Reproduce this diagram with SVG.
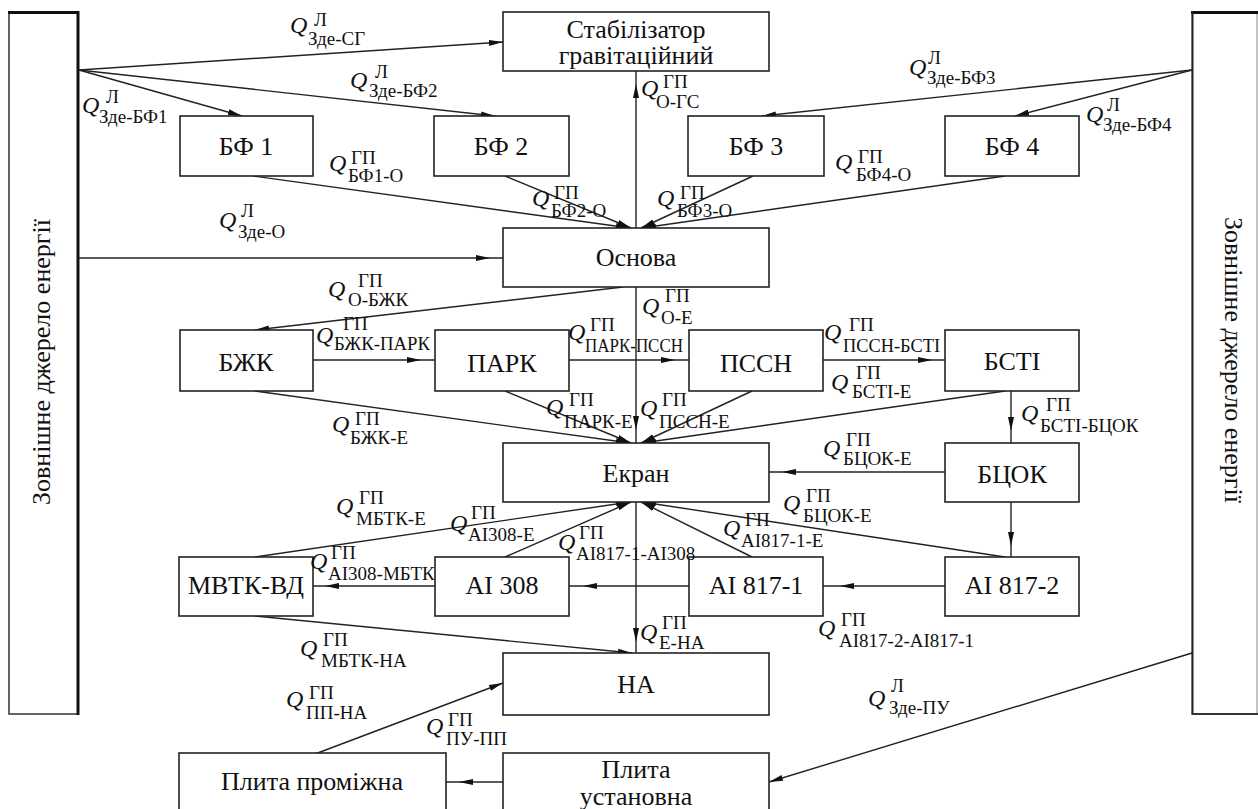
<svg xmlns="http://www.w3.org/2000/svg" width="1258" height="809" viewBox="0 0 1258 809">
<style>
.bx{fill:#fff;stroke:#222;stroke-width:1.6}
.ln{fill:none;stroke:#222;stroke-width:1.4}
.m{marker-mid:url(#ar)}
.e{marker-end:url(#ar)}
</style>
<defs>
<marker id="ar" markerUnits="userSpaceOnUse" markerWidth="14" markerHeight="8" viewBox="0 0 14 8" refX="14" refY="4" orient="auto">
<path d="M0,1 L14,4 L0,7 z" fill="#111"/>
</marker>
</defs>
<rect x="0" y="0" width="1258" height="809" fill="#fff"/>

<g id="src-left">
<rect x="9" y="12" width="69" height="702" fill="#fff" stroke="#222" stroke-width="1.4"/>
<line x1="8" y1="12.5" x2="79" y2="12.5" stroke="#111" stroke-width="3"/>
<line x1="78" y1="11" x2="78" y2="715" stroke="#111" stroke-width="3"/>
<text font-family="Liberation Serif" font-size="26" text-anchor="middle" fill="#111" transform="translate(50,362) rotate(-90)">Зовнішне джерело енергії</text>
</g>
<g id="src-right">
<rect x="1192" y="12" width="65" height="702" fill="#fff" stroke="#888" stroke-width="1"/>
<line x1="1191" y1="12.5" x2="1258" y2="12.5" stroke="#111" stroke-width="3"/>
<line x1="1192.5" y1="11" x2="1192.5" y2="715" stroke="#222" stroke-width="2"/>
<line x1="1192" y1="714" x2="1258" y2="714" stroke="#333" stroke-width="2"/>
<text font-family="Liberation Serif" font-size="26" text-anchor="middle" fill="#111" transform="translate(1225,360) rotate(90)">Зовнішне джерело енергії</text>
</g>

<g id="connectors">
<path class="ln e" d="M79,70 L503,42"/>
<path class="ln e" d="M79,70 L242,116"/>
<path class="ln e" d="M79,70 L495,116"/>
<path class="ln m" d="M79,258 L490,258 L503,258"/>
<path class="ln e" d="M1192,70 L762,116"/>
<path class="ln e" d="M1192,70 L1015,116"/>
<path class="ln m" d="M636,228 L636,84 L636,71"/>
<path class="ln e" d="M253,176 L630,228"/>
<path class="ln e" d="M505,176 L631,228"/>
<path class="ln e" d="M753,176 L641,228"/>
<path class="ln e" d="M1005,176 L642,228"/>
<path class="ln e" d="M623,287 L255,330"/>
<path class="ln m" d="M636,287 L636,430 L636,443"/>
<path class="ln m" d="M313,360 L421,360 L435,360"/>
<path class="ln m" d="M569,360 L675,360 L689,360"/>
<path class="ln m" d="M823,360 L932,360 L945,360"/>
<path class="ln m" d="M1011,391 L1011,431 L1011,443"/>
<path class="ln e" d="M255,391 L630,443"/>
<path class="ln e" d="M505,391 L631,443"/>
<path class="ln e" d="M752,391 L641,443"/>
<path class="ln e" d="M1005,391 L642,443"/>
<path class="ln m" d="M945,472 L782,472 L769,472"/>
<path class="ln m" d="M1011,502 L1011,546 L1011,557"/>
<path class="ln m" d="M945,586 L840,586 L823,586"/>
<path class="ln m" d="M689,586 L583,586 L569,586"/>
<path class="ln m" d="M435,586 L325,586 L313,586"/>
<path class="ln e" d="M255,557 L630,502"/>
<path class="ln e" d="M505,557 L631,502"/>
<path class="ln e" d="M752,557 L641,502"/>
<path class="ln e" d="M1005,557 L642,502"/>
<path class="ln m" d="M636,502 L636,642 L636,653"/>
<path class="ln e" d="M255,616 L632,653"/>
<path class="ln e" d="M315,754 L503,683"/>
<path class="ln m" d="M503,782 L459,782 L446,782"/>
<path class="ln e" d="M1192,653 L769,782"/>
</g>

<g id="n-sg"><rect class="bx" x="503" y="12" width="266" height="59"/>
<text font-family="Liberation Serif" font-size="26" text-anchor="middle" fill="#111" x="636" y="38">Стабілізатор</text><text font-family="Liberation Serif" font-size="26" text-anchor="middle" fill="#111" x="636" y="64">гравітаційний</text></g>
<g id="n-bf1"><rect class="bx" x="180" y="116" width="133" height="60"/><text font-family="Liberation Serif" font-size="26" text-anchor="middle" fill="#111" x="246" y="155">БФ 1</text></g>
<g id="n-bf2"><rect class="bx" x="434" y="116" width="135" height="60"/><text font-family="Liberation Serif" font-size="26" text-anchor="middle" fill="#111" x="501" y="155">БФ 2</text></g>
<g id="n-bf3"><rect class="bx" x="688" y="116" width="136" height="60"/><text font-family="Liberation Serif" font-size="26" text-anchor="middle" fill="#111" x="756" y="155">БФ 3</text></g>
<g id="n-bf4"><rect class="bx" x="945" y="116" width="134" height="60"/><text font-family="Liberation Serif" font-size="26" text-anchor="middle" fill="#111" x="1012" y="155">БФ 4</text></g>
<g id="n-osnova"><rect class="bx" x="503" y="228" width="266" height="59"/><text font-family="Liberation Serif" font-size="26" text-anchor="middle" fill="#111" x="636" y="266">Основа</text></g>
<g id="n-bzhk"><rect class="bx" x="180" y="330" width="133" height="61"/><text font-family="Liberation Serif" font-size="26" text-anchor="middle" fill="#111" x="246" y="371">БЖК</text></g>
<g id="n-park"><rect class="bx" x="435" y="330" width="134" height="61"/><text font-family="Liberation Serif" font-size="26" text-anchor="middle" fill="#111" x="502" y="372">ПАРК</text></g>
<g id="n-pssn"><rect class="bx" x="689" y="330" width="134" height="61"/><text font-family="Liberation Serif" font-size="26" text-anchor="middle" fill="#111" x="756" y="372">ПССН</text></g>
<g id="n-bsti"><rect class="bx" x="945" y="330" width="134" height="61"/><text font-family="Liberation Serif" font-size="26" text-anchor="middle" fill="#111" x="1012" y="370">БСТІ</text></g>
<g id="n-ekran"><rect class="bx" x="503" y="443" width="266" height="59"/><text font-family="Liberation Serif" font-size="26" text-anchor="middle" fill="#111" x="636" y="482">Екран</text></g>
<g id="n-bcok"><rect class="bx" x="945" y="443" width="134" height="59"/><text font-family="Liberation Serif" font-size="26" text-anchor="middle" fill="#111" x="1012" y="483">БЦОК</text></g>
<g id="n-mvtk"><rect class="bx" x="179" y="557" width="134" height="59"/><text font-family="Liberation Serif" font-size="26" text-anchor="middle" fill="#111" x="246" y="594">МВТК-ВД</text></g>
<g id="n-ai308"><rect class="bx" x="435" y="557" width="134" height="59"/><text font-family="Liberation Serif" font-size="26" text-anchor="middle" fill="#111" x="502" y="594">АІ 308</text></g>
<g id="n-ai8171"><rect class="bx" x="689" y="557" width="134" height="59"/><text font-family="Liberation Serif" font-size="26" text-anchor="middle" fill="#111" x="756" y="594">АІ 817-1</text></g>
<g id="n-ai8172"><rect class="bx" x="945" y="557" width="134" height="59"/><text font-family="Liberation Serif" font-size="26" text-anchor="middle" fill="#111" x="1012" y="594">АІ 817-2</text></g>
<g id="n-na"><rect class="bx" x="503" y="653" width="266" height="62"/><text font-family="Liberation Serif" font-size="26" text-anchor="middle" fill="#111" x="636" y="693">НА</text></g>
<g id="n-pp"><rect class="bx" x="179" y="753" width="267" height="70"/><text font-family="Liberation Serif" font-size="26" text-anchor="middle" fill="#111" x="312" y="790">Плита проміжна</text></g>
<g id="n-pu"><rect class="bx" x="503" y="753" width="266" height="70"/><text font-family="Liberation Serif" font-size="26" text-anchor="middle" fill="#111" x="636" y="778">Плита</text><text font-family="Liberation Serif" font-size="26" text-anchor="middle" fill="#111" x="636" y="805">установна</text></g>

<g id="labels" fill="#111">
<g font-family="Liberation Serif" font-size="24" font-style="italic">
<text x="290" y="33">Q</text><text x="82" y="113">Q</text><text x="350" y="88">Q</text><text x="909" y="75">Q</text><text x="1086" y="122">Q</text>
<text x="329" y="171">Q</text><text x="532" y="206">Q</text><text x="657" y="206">Q</text><text x="835" y="170">Q</text><text x="219" y="228">Q</text>
<text x="641" y="96">Q</text><text x="328" y="297">Q</text><text x="642" y="314">Q</text><text x="316" y="343">Q</text><text x="568" y="340">Q</text>
<text x="824" y="340">Q</text><text x="831" y="390">Q</text><text x="1021" y="421">Q</text><text x="332" y="432">Q</text><text x="546" y="415">Q</text>
<text x="640" y="416">Q</text><text x="823" y="456">Q</text><text x="783" y="511">Q</text><text x="336" y="514">Q</text><text x="450" y="531">Q</text>
<text x="558" y="550">Q</text><text x="723" y="536">Q</text><text x="310" y="569">Q</text><text x="640" y="640">Q</text><text x="818" y="636">Q</text>
<text x="300" y="656">Q</text><text x="286" y="707">Q</text><text x="426" y="734">Q</text><text x="868" y="706">Q</text>
</g>
<g font-family="Liberation Serif" font-size="19">
<text x="314" y="26">Л</text><text x="308" y="45">Зде-СГ</text>
<text x="106" y="103">Л</text><text x="99" y="123">Зде-БФ1</text>
<text x="375" y="78">Л</text><text x="369" y="97">Зде-БФ2</text>
<text x="928" y="64">Л</text><text x="927" y="84">Зде-БФ3</text>
<text x="1107" y="111">Л</text><text x="1103" y="131">Зде-БФ4</text>
<text x="351" y="164">ГП</text><text x="348" y="182">БФ1-О</text>
<text x="554" y="199">ГП</text><text x="551" y="217">БФ2-О</text>
<text x="680" y="199">ГП</text><text x="677" y="217">БФ3-О</text>
<text x="858" y="163">ГП</text><text x="856" y="181">БФ4-О</text>
<text x="241" y="217">Л</text><text x="238" y="238">Зде-О</text>
<text x="663" y="88">ГП</text><text x="656" y="108">О-ГС</text>
<text x="358" y="287">ГП</text><text x="348" y="306">О-БЖК</text>
<text x="665" y="302">ГП</text><text x="661" y="324">О-Е</text>
<text x="343" y="330">ГП</text><text x="334" y="350" textLength="96" lengthAdjust="spacingAndGlyphs">БЖК-ПАРК</text>
<text x="590" y="331">ГП</text><text x="585" y="352" textLength="98" lengthAdjust="spacingAndGlyphs">ПАРК-ПССН</text>
<text x="849" y="331">ГП</text><text x="843" y="352" textLength="97" lengthAdjust="spacingAndGlyphs">ПССН-БСТІ</text>
<text x="856" y="379">ГП</text><text x="852" y="398">БСТІ-Е</text>
<text x="1046" y="411">ГП</text><text x="1040" y="432">БСТІ-БЦОК</text>
<text x="355" y="425">ГП</text><text x="350" y="444">БЖК-Е</text>
<text x="569" y="406">ГП</text><text x="564" y="428">ПАРК-Е</text>
<text x="662" y="406">ГП</text><text x="659" y="428">ПССН-Е</text>
<text x="846" y="446">ГП</text><text x="843" y="465">БЦОК-Е</text>
<text x="806" y="502">ГП</text><text x="803" y="522">БЦОК-Е</text>
<text x="359" y="504">ГП</text><text x="356" y="525">МБТК-Е</text>
<text x="471" y="519">ГП</text><text x="468" y="541">АІ308-Е</text>
<text x="579" y="539">ГП</text><text x="576" y="560">АІ817-1-АІ308</text>
<text x="745" y="526">ГП</text><text x="741" y="547">АІ817-1-Е</text>
<text x="331" y="559">ГП</text><text x="328" y="580">АІ308-МБТК</text>
<text x="662" y="629">ГП</text><text x="659" y="649">Е-НА</text>
<text x="841" y="626">ГП</text><text x="839" y="647">АІ817-2-АІ817-1</text>
<text x="323" y="646">ГП</text><text x="321" y="667">МБТК-НА</text>
<text x="309" y="699">ГП</text><text x="306" y="719">ПП-НА</text>
<text x="448" y="726">ГП</text><text x="446" y="745">ПУ-ПП</text>
<text x="891" y="692">Л</text><text x="889" y="714">Зде-ПУ</text>
</g>
</g>
</svg>
